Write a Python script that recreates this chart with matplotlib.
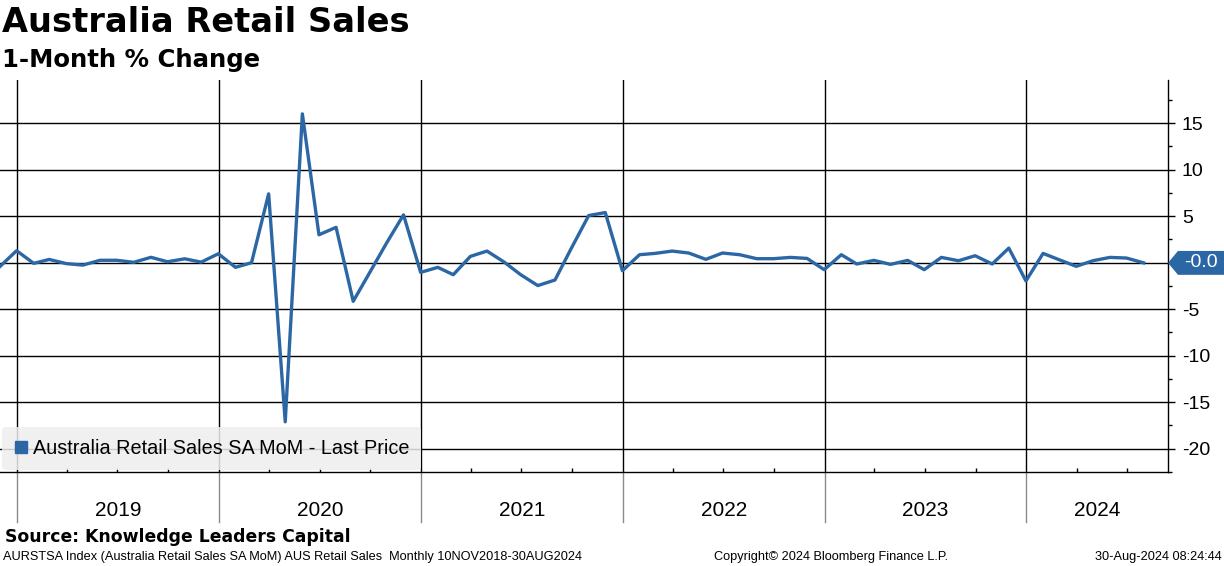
import numpy as np
import pandas as pd
import matplotlib
matplotlib.use("Agg")
from matplotlib import pyplot as plt
import matplotlib.dates as mdates
import matplotlib.transforms as mtransforms
from matplotlib.patches import Polygon

plt.rcParams['axes.unicode_minus'] = False

# monthly observations, plotted at month end
dates = pd.date_range("2018-11-30", periods=69, freq="ME")
values = [-0.46, 1.29, -0.07, 0.35, -0.10, -0.26, 0.26, 0.26, 0.04, 0.58, 0.10, 0.42,
          0.06, 0.96, -0.50, 0.00, 7.40, -17.10, 16.00, 3.00, 3.80, -4.15, -1.04, 2.18,
          5.14, -1.04, -0.50, -1.29, 0.68, 1.25, 0.07, -1.29, -2.46, -1.86, 1.60, 5.07,
          5.39, -0.86, 0.86, 1.00, 1.25, 1.04, 0.36, 1.04, 0.86, 0.43, 0.43, 0.57,
          0.46, -0.75, 0.86, -0.14, 0.25, -0.18, 0.25, -0.75, 0.57, 0.21, 0.75, -0.14,
          1.57, -1.96, 1.00, 0.32, -0.39, 0.21, 0.57, 0.50, -0.02]
years = [2019, 2020, 2021, 2022, 2023, 2024]
yticks = [-20, -15, -10, -5, 0, 5, 10, 15]
series_name = "Australia Retail Sales SA MoM - Last Price"
last_label = "-0.0"

blue = "#2b67a5"
W, H = 1224, 566
fig = plt.figure(figsize=(W / 100, H / 100), dpi=100)
ax = fig.add_axes([0, 1 - 472 / H, 1168 / W, (472 - 80) / H])

ax.plot(dates, values, color=blue, lw=2.4, label=series_name, zorder=3)

x0 = pd.Timestamp("2018-12-01")
x1 = pd.Timestamp("2024-09-13")
ax.set_xlim(x0, x1)
ax.set_ylim(-22.32, 19.64)

# spines
for s in ["top", "left"]:
    ax.spines[s].set_visible(False)
ax.spines["right"].set_color("black")
ax.spines["bottom"].set_color("black")
ax.spines["right"].set_linewidth(1.0)
ax.spines["bottom"].set_linewidth(1.0)

# y axis on right
ax.yaxis.tick_right()
ax.set_yticks(yticks)
ax.set_yticklabels(["" if v == 0 else str(v) for v in yticks])
ax.set_yticks(np.arange(-22.5, 20, 5), minor=True)
ax.tick_params(axis="y", which="major", length=5, width=1, direction="out", pad=5,
               labelsize=14, labelfontfamily="Liberation Sans", right=True, left=False)
ax.tick_params(axis="y", which="minor", length=3, width=1, direction="out",
               right=True, left=False)

# x axis: quarter ticks inside, no labels
ax.set_xticks([])
ax.xaxis.set_minor_locator(mdates.MonthLocator(bymonth=[4, 7, 10]))
ax.tick_params(axis="x", which="minor", length=3, width=1, direction="in",
               bottom=True, top=False, labelbottom=False)

# grid
for v in yticks:
    ax.axhline(v, color="black", lw=1.0, zorder=1)
band = 50 / 392
for y in years:
    d = pd.Timestamp(f"{y}-01-01")
    ax.axvline(d, color="black", lw=1.0, zorder=1)
    ax.axvline(d, ymin=-band, ymax=0, color="#8a8a8a", lw=1.0, clip_on=False)

# year labels centred in the visible part of each year
trans = mtransforms.blended_transform_factory(ax.transData, ax.transAxes)
for y in years:
    a = max(mdates.date2num(pd.Timestamp(f"{y}-01-01")), mdates.date2num(x0))
    b = min(mdates.date2num(pd.Timestamp(f"{y + 1}-01-01")), mdates.date2num(x1))
    ax.text((a + b) / 2, -39 / 392, str(y), transform=trans, ha="center",
            va="center", fontsize=15, family="Liberation Sans")

# legend
leg = ax.legend(loc="lower left", bbox_to_anchor=(0.0, 0.0), frameon=True,
                prop={"family": "Liberation Sans", "size": 14.3},
                handlelength=0.7, handletextpad=0.25, borderpad=0.6,
                borderaxespad=0.1, fancybox=True)
leg.get_frame().set_facecolor("#eeeeee")
leg.get_frame().set_edgecolor("none")
leg.get_frame().set_alpha(0.85)
h = leg.legend_handles[0]
h.set_linewidth(0)
h.set_marker("s")
h.set_markersize(9)
h.set_markerfacecolor(blue)
h.set_markeredgecolor(blue)

# last value tag
ytr = mtransforms.blended_transform_factory(ax.transAxes, ax.transData)
v = values[-1]
hh = 12 / 9.343
pts = [(1.0, v), (1 + 10 / 1168, v + hh), (1 + 56 / 1168, v + hh),
       (1 + 56 / 1168, v - hh), (1 + 10 / 1168, v - hh)]
ax.add_patch(Polygon(pts, closed=True, transform=ytr, facecolor=blue,
                     edgecolor="none", clip_on=False, zorder=5))
ax.text(1 + 33 / 1168, v, last_label, transform=ytr, color="white", ha="center",
        va="center", fontsize=14, family="Liberation Sans", zorder=6)

# titles and footer
fig.text(2 / W, 1 - 23 / H, "Australia Retail Sales", fontsize=24.2, fontweight="bold",
         family="DejaVu Sans", va="center", ha="left")
fig.text(2 / W, 1 - 60 / H, "1-Month % Change", fontsize=17.6, fontweight="bold",
         family="DejaVu Sans", va="center", ha="left")
fig.text(5 / W, 1 - 537 / H, "Source: Knowledge Leaders Capital", fontsize=12.4,
         fontweight="bold", family="DejaVu Sans", va="center", ha="left")
fig.text(3 / W, 1 - 557 / H,
         "AURSTSA Index (Australia Retail Sales SA MoM) AUS Retail Sales  Monthly 10NOV2018-30AUG2024",
         fontsize=9.2, family="Liberation Sans", va="center", ha="left")
fig.text(714 / W, 1 - 557 / H, "Copyright\u00a9 2024 Bloomberg Finance L.P.",
         fontsize=9.2, family="Liberation Sans", va="center", ha="left")
fig.text(1222 / W, 1 - 557 / H, "30-Aug-2024 08:24:44",
         fontsize=9.2, family="Liberation Sans", va="center", ha="right")

fig.savefig("out.png", dpi=100)
